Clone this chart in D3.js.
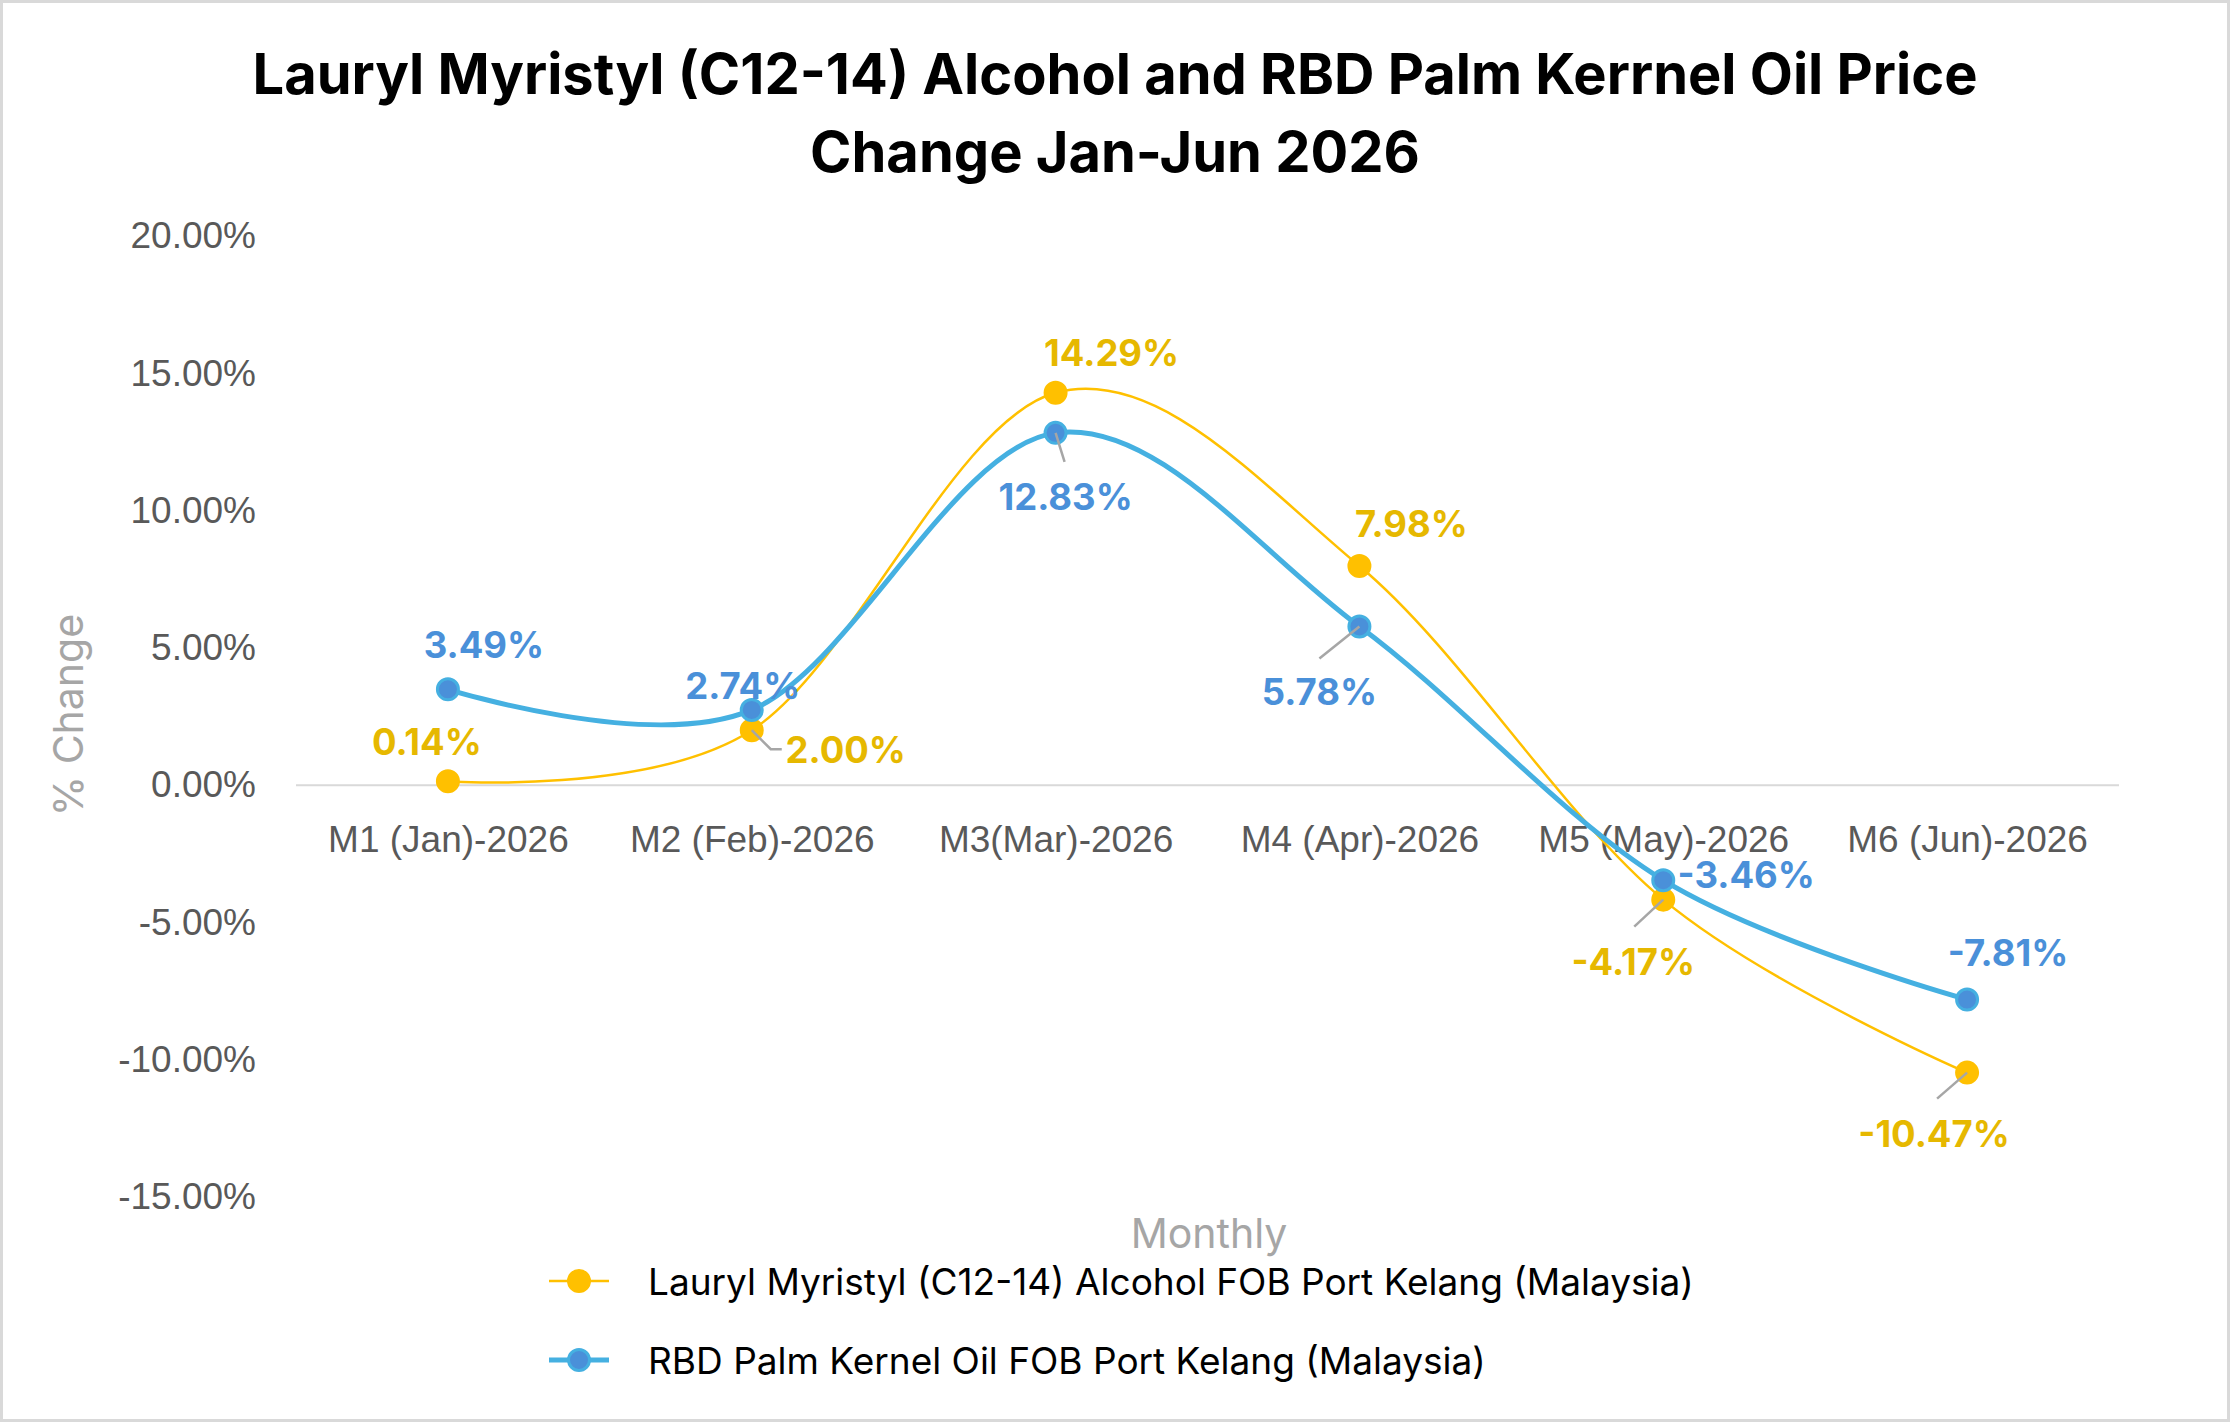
<!DOCTYPE html>
<html>
<head>
<meta charset="utf-8">
<script src="https://cdn.jsdelivr.net/npm/d3@7"></script>
<style>
  body { margin: 0; background: #fff; }
  svg { display: block; font-family: Inter, "Open Sans", sans-serif; }
  .axis path { stroke: #d9d9d9; stroke-width: 2; }
  .axis text { fill: #595959; font-size: 37px; }
</style>
</head>
<body>
<svg id="chart"></svg>
<script>
// Chart data
const months = ['M1 (Jan)-2026', 'M2 (Feb)-2026', 'M3(Mar)-2026', 'M4 (Apr)-2026', 'M5 (May)-2026', 'M6 (Jun)-2026'];
const laurylValues = [0.14, 2.00, 14.29, 7.98, -4.17, -10.47];
const rbdValues = [3.49, 2.74, 12.83, 5.78, -3.46, -7.81];
const yTicks = [-15, -10, -5, 0, 5, 10, 15, 20];
const seriesNames = ['Lauryl Myristyl (C12-14) Alcohol FOB Port Kelang (Malaysia)', 'RBD Palm Kernel Oil FOB Port Kelang (Malaysia)'];

// label placement (offset of label centre from its point), leader lines where Excel drew them
const laurylLabelPos = [[-21, -39], [94, 20], [56, -40], [52, -42], [-30, 62], [-33, 61]];
const rbdLabelPos = [[36, -44], [-9, -24], [10, 64], [-40, 66], [83, -5], [41, -47]];
const laurylLeaders = [null, [[0, 0], [19, 19], [30, 19]], null, null, [[0, 0], [-29, 27]], [[0, 0], [-30, 26]]];
const rbdLeaders = [null, null, [[0, 0], [9, 29]], [[0, 0], [-40, 32]], null, null];

const width = 2230, height = 1422;
const margin = {top: 236, right: 111, bottom: 225, left: 296};

const svg = d3.select('#chart')
    .attr('width', width)
    .attr('height', height);

svg.append('rect')
    .attr('x', 1.5).attr('y', 1.5)
    .attr('width', width - 3).attr('height', height - 3)
    .attr('fill', '#fff')
    .attr('stroke', '#d9d9d9')
    .attr('stroke-width', 3);

const xScale = d3.scalePoint()
    .domain(months)
    .range([margin.left, width - margin.right])
    .padding(0.5);

const yScale = d3.scaleLinear()
    .domain([-15, 20])
    .range([height - margin.bottom, margin.top]);

// Title
const title = svg.append('text')
    .attr('text-anchor', 'middle')
    .attr('font-weight', 700)
    .attr('font-size', 56)
    .attr('fill', '#000');
title.append('tspan').attr('x', 1115).attr('y', 94).text('Lauryl Myristyl (C12-14) Alcohol and RBD Palm Kerrnel Oil Price');
title.append('tspan').attr('x', 1115).attr('y', 172).text('Change Jan-Jun 2026');

// Y axis (labels only)
const yAxis = d3.axisLeft(yScale)
    .tickValues(yTicks)
    .tickSize(0)
    .tickPadding(40)
    .tickFormat(d => d.toFixed(2) + '%');

const yAxisG = svg.append('g')
    .attr('class', 'axis y-axis')
    .attr('transform', `translate(${margin.left},0)`)
    .call(yAxis);
yAxisG.select('.domain').remove();

// X axis sits on the zero line
const xAxis = d3.axisBottom(xScale)
    .tickSize(0)
    .tickPadding(54);

const xAxisG = svg.append('g')
    .attr('class', 'axis x-axis')
    .attr('transform', `translate(0,${yScale(0)})`)
    .call(xAxis);
xAxisG.select('.domain').attr('d', `M${margin.left},0H${width - margin.right}`);
xAxisG.selectAll('text').attr('dy', '0.35em');

// Axis titles
svg.append('text')
    .attr('transform', 'translate(68,715) rotate(-90)')
    .attr('text-anchor', 'middle')
    .attr('dominant-baseline', 'central')
    .attr('font-size', 41)
    .attr('fill', '#a6a6a6')
    .text('% Change');

svg.append('text')
    .attr('x', 1209).attr('y', 1233)
    .attr('text-anchor', 'middle')
    .attr('dominant-baseline', 'central')
    .attr('font-size', 41)
    .attr('fill', '#a6a6a6')
    .text('Monthly');

const line = d3.line()
    .x((d, i) => xScale(months[i]))
    .y(d => yScale(d))
    .curve(d3.curveCardinal.tension(0));

const series = [
  {values: laurylValues, line: '#ffc000', width: 2.5, fill: '#ffc000', stroke: '#ffc000', label: '#e6b800', pos: laurylLabelPos, leaders: laurylLeaders},
  {values: rbdValues, line: '#45b0e1', width: 5, fill: '#4a90d9', stroke: '#45b0e1', label: '#4a90d9', pos: rbdLabelPos, leaders: rbdLeaders}
];

series.forEach(s => {
  svg.append('path')
      .datum(s.values)
      .attr('fill', 'none')
      .attr('stroke', s.line)
      .attr('stroke-width', s.width)
      .attr('d', line);
});

series.forEach(s => {
  svg.append('g').selectAll('circle')
      .data(s.values)
    .join('circle')
      .attr('cx', (d, i) => xScale(months[i]))
      .attr('cy', d => yScale(d))
      .attr('r', 10.5)
      .attr('fill', s.fill)
      .attr('stroke', s.stroke)
      .attr('stroke-width', 3);
});

// leader lines + data labels
series.forEach(s => {
  s.values.forEach((v, i) => {
    const px = xScale(months[i]), py = yScale(v);
    if (s.leaders[i]) {
      svg.append('path')
          .attr('d', 'M' + s.leaders[i].map(p => `${px + p[0]},${py + p[1]}`).join('L'))
          .attr('fill', 'none')
          .attr('stroke', '#a6a6a6')
          .attr('stroke-width', 2.5);
    }
    svg.append('text')
        .attr('x', px + s.pos[i][0])
        .attr('y', py + s.pos[i][1])
        .attr('text-anchor', 'middle')
        .attr('dominant-baseline', 'central')
        .attr('font-size', 36.5)
        .attr('font-weight', 700)
        .attr('fill', s.label)
        .text(v.toFixed(2) + '%');
  });
});

// Legend
const legendY = [1281, 1360];
series.forEach((s, i) => {
  const g = svg.append('g').attr('transform', `translate(0,${legendY[i]})`);
  g.append('line')
      .attr('x1', 549).attr('x2', 609)
      .attr('stroke', s.line)
      .attr('stroke-width', s.width);
  g.append('circle')
      .attr('cx', 579).attr('r', 10.5)
      .attr('fill', s.fill)
      .attr('stroke', s.stroke)
      .attr('stroke-width', 3);
  g.append('text')
      .attr('x', 648)
      .attr('dominant-baseline', 'central')
      .attr('font-size', 37)
      .attr('fill', '#000')
      .text(seriesNames[i]);
});
</script>
</body>
</html>
